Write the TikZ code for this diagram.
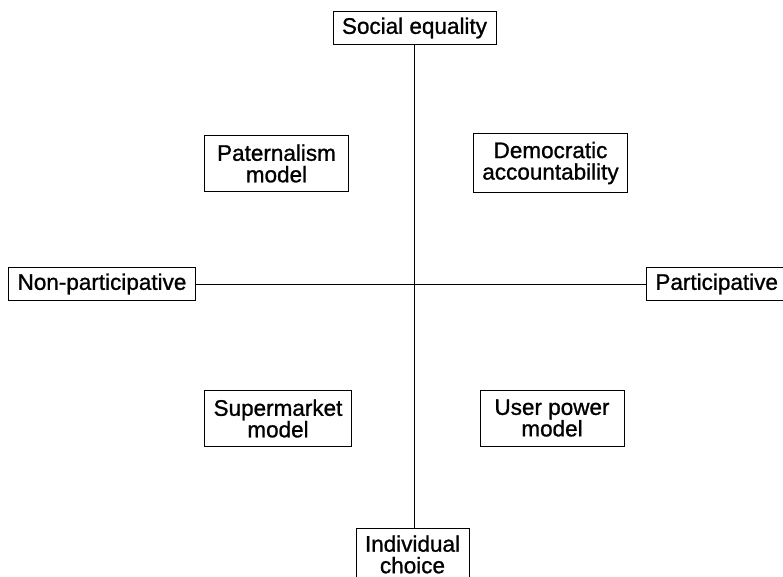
\documentclass[tikz,border=0pt]{standalone}
\usepackage{fontspec}
\setmainfont[FakeBold=1]{Liberation Sans}
\usetikzlibrary{positioning}

\begin{document}
\begin{tikzpicture}[x=1pt, y=-1pt]
    \tikzstyle{every node}=[draw, fill=white, rectangle, line width=.8pt, inner xsep=9pt, align=center, font=\fontsize{22.5}{21.5}\selectfont];
    \tikzset{
        axisbox/.style={inner ysep=6pt},
        modelbox/.style={minimum width=144pt, minimum height=56pt, inner ysep=8pt}
    }
    \useasboundingbox (0,0) rectangle (783,577);
    \coordinate (a1) at (414.5, 28);
    \coordinate (a2) at (412.5, 528);
    \coordinate (a3) at (102, 284);
    \coordinate (a4) at (646, 284);
    \coordinate (m1) at (276.5, 163.5);
    \coordinate (m2) at (550.5, 163);
    \coordinate (m3) at (278, 418.5);
    \coordinate (m4) at (552, 418);
    % axes
    \node[axisbox] (soc) at (a1) {Social equality};
    \node[axisbox, anchor=north, inner ysep=7pt] (ind) at (a2) {Individual\\choice};
    \node[axisbox] (non) at (a3) {Non-participative};
    \node[axisbox, anchor=west] (par) at (a4) {Participative};
    \draw[line width=.8pt] (soc.south) -- (soc.south |- ind.north);
    \draw[line width=.8pt] (non.east) -- (par.west);
    % models
    \node[modelbox] (pat) at (m1) {Paternalism\\model};
    \node[modelbox] (dem) at (m2) {Democratic\\accountability};
    \node[modelbox] (sup) at (m3) {Supermarket\\model};
    \node[modelbox] (usr) at (m4) {User power\\model};
\end{tikzpicture}
\end{document}
